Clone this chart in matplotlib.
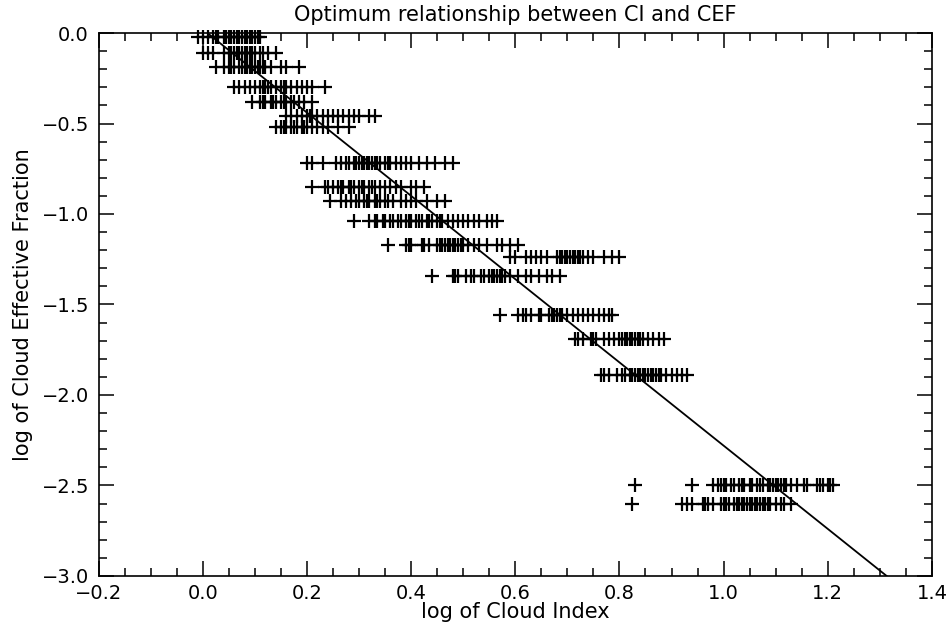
import numpy as np
import matplotlib
matplotlib.use("Agg")
import matplotlib.pyplot as plt
from matplotlib.ticker import MultipleLocator

# rows of points: one y level per row, x values
row_y = [-0.02, -0.11, -0.19, -0.30, -0.38, -0.46, -0.52, -0.72, -0.85, -0.93,
         -1.04, -1.17, -1.24, -1.34, -1.56, -1.69, -1.89, -2.50, -2.60]

row_x = [
    [-0.01, 0.0, 0.01, 0.02, 0.025, 0.03, 0.04, 0.045, 0.05, 0.055, 0.06, 0.065,
     0.07, 0.075, 0.08, 0.085, 0.09, 0.095, 0.10, 0.105, 0.11],
    [0.0, 0.01, 0.02, 0.04, 0.05, 0.055, 0.06, 0.065, 0.07, 0.075, 0.08, 0.085,
     0.09, 0.095, 0.10, 0.11, 0.115, 0.125, 0.14],
    [0.025, 0.04, 0.05, 0.055, 0.06, 0.07, 0.075, 0.08, 0.085, 0.09, 0.095, 0.10,
     0.105, 0.11, 0.115, 0.12, 0.13, 0.15, 0.16, 0.185],
    [0.06, 0.07, 0.08, 0.09, 0.10, 0.11, 0.115, 0.12, 0.125, 0.13, 0.14, 0.15,
     0.155, 0.16, 0.17, 0.18, 0.19, 0.20, 0.21, 0.235],
    [0.095, 0.11, 0.115, 0.12, 0.13, 0.135, 0.14, 0.15, 0.155, 0.16, 0.17, 0.175,
     0.185, 0.195, 0.21],
    [0.16, 0.17, 0.18, 0.19, 0.20, 0.205, 0.21, 0.22, 0.23, 0.24, 0.25, 0.26,
     0.27, 0.28, 0.29, 0.30, 0.32, 0.33],
    [0.14, 0.15, 0.155, 0.16, 0.17, 0.175, 0.18, 0.19, 0.195, 0.20, 0.21, 0.22,
     0.23, 0.24, 0.26, 0.28],
    [0.20, 0.21, 0.23, 0.255, 0.265, 0.275, 0.28, 0.29, 0.295, 0.30, 0.305, 0.31,
     0.315, 0.32, 0.325, 0.33, 0.335, 0.34, 0.35, 0.355, 0.36, 0.37, 0.38, 0.39,
     0.40, 0.415, 0.43, 0.445, 0.465, 0.48],
    [0.21, 0.235, 0.24, 0.25, 0.26, 0.265, 0.27, 0.28, 0.285, 0.29, 0.30, 0.305,
     0.31, 0.32, 0.325, 0.33, 0.34, 0.35, 0.36, 0.37, 0.38, 0.40, 0.41, 0.425],
    [0.245, 0.265, 0.275, 0.285, 0.295, 0.30, 0.31, 0.315, 0.32, 0.33, 0.335,
     0.34, 0.35, 0.355, 0.365, 0.38, 0.39, 0.40, 0.41, 0.43, 0.45, 0.465],
    [0.29, 0.32, 0.33, 0.335, 0.345, 0.35, 0.36, 0.365, 0.375, 0.38, 0.39, 0.395,
     0.40, 0.41, 0.415, 0.42, 0.43, 0.435, 0.44, 0.45, 0.455, 0.46, 0.47, 0.48,
     0.49, 0.50, 0.51, 0.52, 0.53, 0.545, 0.555, 0.565],
    [0.355, 0.39, 0.395, 0.40, 0.42, 0.425, 0.435, 0.45, 0.455, 0.46, 0.465,
     0.47, 0.475, 0.48, 0.485, 0.49, 0.495, 0.50, 0.51, 0.52, 0.53, 0.545, 0.565,
     0.575, 0.59, 0.605],
    [0.59, 0.60, 0.62, 0.63, 0.64, 0.65, 0.66, 0.68, 0.685, 0.69, 0.695, 0.70,
     0.705, 0.71, 0.715, 0.72, 0.725, 0.73, 0.74, 0.75, 0.77, 0.785, 0.80],
    [0.44, 0.48, 0.485, 0.49, 0.505, 0.515, 0.52, 0.535, 0.54, 0.55, 0.555, 0.56,
     0.565, 0.57, 0.575, 0.58, 0.59, 0.605, 0.62, 0.63, 0.645, 0.66, 0.67, 0.685],
    [0.57, 0.605, 0.615, 0.62, 0.63, 0.645, 0.65, 0.665, 0.67, 0.675, 0.68,
     0.685, 0.69, 0.70, 0.71, 0.72, 0.73, 0.74, 0.75, 0.76, 0.77, 0.78, 0.785],
    [0.715, 0.72, 0.73, 0.745, 0.75, 0.755, 0.77, 0.78, 0.79, 0.80, 0.805, 0.81,
     0.815, 0.82, 0.825, 0.83, 0.835, 0.84, 0.845, 0.855, 0.865, 0.875, 0.885],
    [0.765, 0.77, 0.78, 0.795, 0.805, 0.81, 0.82, 0.825, 0.83, 0.835, 0.84,
     0.845, 0.85, 0.855, 0.86, 0.865, 0.87, 0.875, 0.88, 0.89, 0.90, 0.91, 0.92,
     0.93],
    [0.83, 0.94, 0.98, 0.99, 0.995, 1.0, 1.005, 1.015, 1.02, 1.03, 1.035, 1.04,
     1.05, 1.055, 1.065, 1.07, 1.075, 1.085, 1.09, 1.095, 1.10, 1.105, 1.11,
     1.115, 1.12, 1.13, 1.14, 1.155, 1.16, 1.18, 1.185, 1.19, 1.20, 1.205, 1.21],
    [0.825, 0.92, 0.93, 0.94, 0.96, 0.965, 0.97, 0.98, 0.995, 1.0, 1.005, 1.01,
     1.02, 1.025, 1.03, 1.035, 1.04, 1.045, 1.05, 1.055, 1.06, 1.065, 1.07,
     1.075, 1.08, 1.085, 1.09, 1.10, 1.11, 1.115, 1.13],
]

# fitted line: y = fit_a + fit_b * x
fit_a = 0.02
fit_b = -2.30
fit_x = [0.01, 1.313]

plt.rcParams['font.family'] = ['DejaVu Sans']

fig = plt.figure(figsize=(9.49, 6.35), dpi=100)
ax = fig.add_axes([0.104, 0.093, 0.878, 0.855])

for y, xs in zip(row_y, row_x):
    ax.plot(xs, [y] * len(xs), linestyle='none', marker='+', color='black',
            markersize=9.5, markeredgewidth=1.6, clip_on=False)

lx = np.array(fit_x)
ax.plot(lx, fit_a + fit_b * lx, color='black', linewidth=1.3)

ax.set_xlim(-0.2, 1.4)
ax.set_ylim(-3.0, 0.0)
ax.xaxis.set_major_locator(MultipleLocator(0.2))
ax.xaxis.set_minor_locator(MultipleLocator(0.05))
ax.yaxis.set_major_locator(MultipleLocator(0.5))
ax.yaxis.set_minor_locator(MultipleLocator(0.1))
ax.xaxis.set_major_formatter(lambda v, p: f"{v:.1f}".replace('-', '\u2212'))
ax.yaxis.set_major_formatter(lambda v, p: f"{v:.1f}".replace('-', '\u2212'))

ax.tick_params(which='both', direction='in', top=True, right=True,
               labelsize=14, width=1.1)
ax.tick_params(axis='x', pad=6)
ax.tick_params(axis='y', pad=7)
ax.tick_params(which='major', length=11)
ax.tick_params(which='minor', length=5.5)
for s in ax.spines.values():
    s.set_linewidth(1.2)

ax.set_title("Optimum relationship between CI and CEF", fontsize=15, pad=9)
ax.set_xlabel("log of Cloud Index", fontsize=15, labelpad=-1)
ax.set_ylabel("log of Cloud Effective Fraction", fontsize=15, labelpad=6)

fig.savefig("out.png", dpi=100)
